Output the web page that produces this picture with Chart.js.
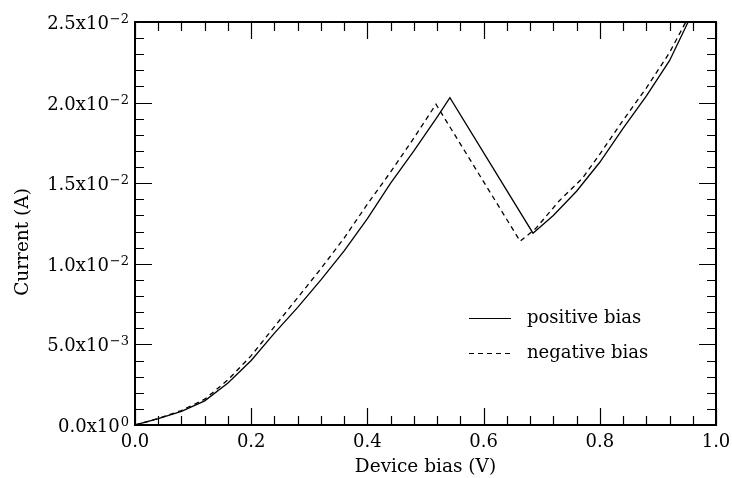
<!DOCTYPE html>
<html>
<head>
<meta charset="utf-8">
<script src="https://cdn.jsdelivr.net/npm/chart.js@4/dist/chart.umd.min.js"></script>
<style>
  body { margin: 0; background: #fff; }
  #wrap { width: 732px; height: 478px; position: relative; }
</style>
</head>
<body>
<div id="wrap"><canvas id="canvas"></canvas></div>
<script>
// Data: device bias (V) and current (A)
var biasPositive = [0, 0.04, 0.08, 0.12, 0.16, 0.20, 0.24, 0.28, 0.32, 0.36, 0.40, 0.44, 0.48, 0.52, 0.542,
  0.685, 0.72, 0.76, 0.80, 0.84, 0.88, 0.92, 0.952];
var currentPositive = [0, 0.0004, 0.00085, 0.0015, 0.0026, 0.0040, 0.0057, 0.0073, 0.0090, 0.0108, 0.0128, 0.0150, 0.0170, 0.0191, 0.0203,
  0.0119, 0.0130, 0.0145, 0.0163, 0.0184, 0.0204, 0.0226, 0.0250];

var biasNegative = [0, 0.04, 0.08, 0.12, 0.16, 0.20, 0.24, 0.28, 0.32, 0.36, 0.40, 0.44, 0.48, 0.518,
  0.663, 0.69, 0.73, 0.77, 0.80, 0.84, 0.88, 0.92, 0.948];
var currentNegative = [0, 0.0004, 0.0009, 0.0016, 0.0028, 0.0043, 0.0061, 0.0079, 0.0097, 0.0116, 0.0137, 0.0157, 0.0178, 0.0199,
  0.0114, 0.0122, 0.0139, 0.0153, 0.0168, 0.0189, 0.0209, 0.0231, 0.0250];

var seriesNames = ["positive bias", "negative bias"];

// Tick labels
var xTickValues = [0, 0.2, 0.4, 0.6, 0.8, 1.0];
var xTickLabels = ["0.0", "0.2", "0.4", "0.6", "0.8", "1.0"];
var yTickValues = [0, 0.005, 0.010, 0.015, 0.020, 0.025];
var yTickMantissa = ["0.0x10", "5.0x10", "1.0x10", "1.5x10", "2.0x10", "2.5x10"];
var yTickExponent = ["0", "\u22123", "\u22122", "\u22122", "\u22122", "\u22122"];
var xMinorStep = 0.04;
var yMinorStep = 0.001;

var xTitle = "Device bias (V)";
var yTitle = "Current (A)";

var FONT = '"DejaVu Serif", "Liberation Serif", serif';

function toPoints(xs, ys) {
  return xs.map(function (x, i) { return { x: x, y: ys[i] }; });
}

// Frame, inward ticks, labels, titles and legend
var framePlugin = {
  id: "frame",
  afterDraw: function (chart) {
    var ctx = chart.ctx;
    var area = chart.chartArea;
    var xs = chart.scales.x;
    var ys = chart.scales.y;
    ctx.save();
    ctx.strokeStyle = "#000";
    ctx.fillStyle = "#000";

    // minor + major ticks on x (bottom and top)
    ctx.lineWidth = 1.2;
    var n = Math.round((xs.max - xs.min) / xMinorStep);
    for (var i = 0; i <= n; i++) {
      var v = xs.min + i * xMinorStep;
      var px = Math.round(xs.getPixelForValue(v)) + 0.5;
      var major = i % 5 === 0;
      var len = major ? 17 : 9;
      ctx.beginPath();
      ctx.moveTo(px, area.bottom);
      ctx.lineTo(px, area.bottom - len);
      ctx.moveTo(px, area.top);
      ctx.lineTo(px, area.top + len);
      ctx.stroke();
    }
    // y ticks (left and right)
    var m = Math.round((ys.max - ys.min) / yMinorStep);
    for (var j = 0; j <= m; j++) {
      var vy = ys.min + j * yMinorStep;
      var py = Math.round(ys.getPixelForValue(vy)) + 0.5;
      var majorY = j % 5 === 0;
      var leny = majorY ? 17 : 9;
      ctx.beginPath();
      ctx.moveTo(area.left, py);
      ctx.lineTo(area.left + leny, py);
      ctx.moveTo(area.right, py);
      ctx.lineTo(area.right - leny, py);
      ctx.stroke();
    }

    // frame
    ctx.lineWidth = 2;
    ctx.strokeRect(area.left, area.top, area.right - area.left, area.bottom - area.top);

    // x tick labels
    ctx.font = "18px " + FONT;
    ctx.textAlign = "center";
    ctx.textBaseline = "middle";
    xTickValues.forEach(function (v, k) {
      ctx.fillText(xTickLabels[k], xs.getPixelForValue(v), area.bottom + 17);
    });

    // y tick labels with raised exponent
    ctx.textBaseline = "alphabetic";
    ctx.textAlign = "left";
    yTickValues.forEach(function (v, k) {
      var y = ys.getPixelForValue(v);
      ctx.font = "13px " + FONT;
      var ew = ctx.measureText(yTickExponent[k]).width;
      ctx.font = "18px " + FONT;
      var mw = ctx.measureText(yTickMantissa[k]).width;
      var right = area.left - 6;
      var x0 = right - ew - mw - 1;
      ctx.fillText(yTickMantissa[k], x0, y + 7);
      ctx.font = "13px " + FONT;
      ctx.fillText(yTickExponent[k], x0 + mw + 1, y + 1);
    });

    // axis titles
    ctx.font = "18.5px " + FONT;
    ctx.textAlign = "center";
    ctx.textBaseline = "middle";
    ctx.fillText(xTitle, (area.left + area.right) / 2, area.bottom + 42);
    ctx.save();
    ctx.translate(23, 242);
    ctx.rotate(-Math.PI / 2);
    ctx.fillText(yTitle, 0, 0);
    ctx.restore();

    // legend
    var legendY = [318, 353];
    chart.data.datasets.forEach(function (ds, k) {
      ctx.save();
      ctx.lineWidth = 1.2;
      ctx.setLineDash(ds.borderDash || []);
      ctx.beginPath();
      ctx.moveTo(469, legendY[k] + 0.5);
      ctx.lineTo(511, legendY[k] + 0.5);
      ctx.stroke();
      ctx.restore();
      ctx.font = "18px " + FONT;
      ctx.textAlign = "left";
      ctx.textBaseline = "middle";
      ctx.fillText(ds.label, 527, legendY[k]);
    });

    ctx.restore();
  }
};

var ctx = document.getElementById("canvas").getContext("2d");
var chart = new Chart(ctx, {
  type: "line",
  data: {
    datasets: [{
      label: seriesNames[0],
      data: toPoints(biasPositive, currentPositive),
      borderColor: "#000",
      borderWidth: 1.3,
      pointRadius: 0,
      tension: 0,
      fill: false
    }, {
      label: seriesNames[1],
      data: toPoints(biasNegative, currentNegative),
      borderColor: "#000",
      borderWidth: 1.3,
      borderDash: [5, 4],
      pointRadius: 0,
      tension: 0,
      fill: false
    }]
  },
  options: {
    responsive: true,
    maintainAspectRatio: false,
    animation: false,
    layout: { padding: { left: 135, top: 22, right: 16, bottom: 53 } },
    scales: {
      x: { type: "linear", min: 0, max: 1, display: false },
      y: { type: "linear", min: 0, max: 0.025, display: false }
    },
    plugins: {
      legend: { display: false },
      tooltip: { enabled: false }
    }
  },
  plugins: [framePlugin]
});
</script>
</body>
</html>
